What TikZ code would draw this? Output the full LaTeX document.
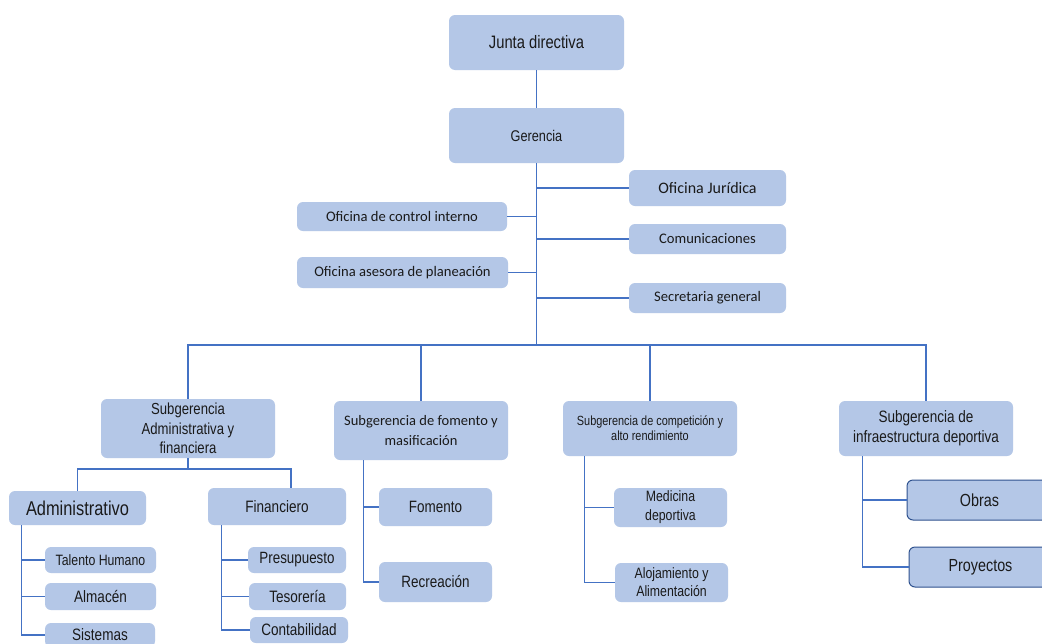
\documentclass[tikz,border=0pt]{standalone}
\usepackage{fontspec}
\setmainfont{Liberation Sans}
\newfontfamily\narr[FakeStretch=0.82]{Liberation Sans}
\newfontfamily\carl{Carlito}
\definecolor{boxfill}{HTML}{B4C7E7}
\definecolor{linkc}{HTML}{4472C4}
\definecolor{darkb}{HTML}{2F528F}
\definecolor{txt}{HTML}{1A1A1A}
\newcommand{\fs}[2]{\fontsize{#1}{#2}\selectfont}
\tikzset{
  box/.style={fill=boxfill, draw=none, rounded corners=6pt, inner sep=0pt, align=center, text=txt, font=\narr},
  bbox/.style={box, draw=darkb, line width=1pt},
  link/.style={draw=linkc, line width=1.2pt},
}
\begin{document}
\begin{tikzpicture}[x=1pt,y=-1pt]
\useasboundingbox[fill=white] (0,0) rectangle (1042,643);
\node[box, minimum width=175, minimum height=55, font=\narr\fs{18}{20}] (jd) at (536.5,42.5) {Junta directiva};
\node[box, minimum width=175, minimum height=55, font=\narr\fs{15.5}{18}] (ger) at (536.5,135.5) {Gerencia};
\node[box, minimum width=157, minimum height=36, font=\carl\fs{16}{18}] (ojur) at (707.5,188) {Oficina Jurídica};
\node[box, minimum width=210, minimum height=29, font=\carl\fs{14.6}{17}] (oci) at (402,216.5) {Oficina de control interno};
\node[box, minimum width=157, minimum height=30, font=\carl\fs{14.6}{17}] (com) at (707.5,239) {Comunicaciones};
\node[box, minimum width=211, minimum height=31, font=\carl\fs{14.6}{17}] (oap) at (402.5,272.5) {Oficina asesora de planeación};
\node[box, minimum width=157, minimum height=30, font=\carl\fs{14.6}{17}] (sec) at (707.5,298) {Secretaria general};
\node[box, minimum width=174, minimum height=59, font=\narr\fs{16}{19.5}] (sa) at (188,428.5) {Subgerencia\\Administrativa y\\financiera};
\node[box, minimum width=174, minimum height=59, font=\carl\fs{14.5}{20}] (sf) at (421,430.5) {Subgerencia de fomento y\\masificación};
\node[box, minimum width=174, minimum height=55, font=\narr\fs{13.3}{15}] (sc) at (650,428.5) {Subgerencia de competición y\\alto rendimiento};
\node[box, minimum width=174, minimum height=55, font=\narr\fs{16.5}{20}] (si) at (926,428.5) {Subgerencia de\\infraestructura deportiva};
\node[box, minimum width=137, minimum height=34, font=\narr\fs{20}{22}] (adm) at (77.5,508) {Administrativo};
\node[box, minimum width=138, minimum height=37, font=\narr\fs{16.5}{18}] (fin) at (277,506.5) {Financiero};
\node[box, minimum width=111, minimum height=26, font=\narr\fs{15}{17}] (th) at (100.5,560) {Talento Humano};
\node[box, minimum width=111, minimum height=27, font=\narr\fs{16.5}{18}] (alm) at (100.5,596.5) {Almacén};
\node[box, minimum width=110, minimum height=24, font=\narr\fs{16.5}{18}] (sis) at (100,635) {Sistemas};
\node[box, minimum width=98, minimum height=26, font=\narr\fs{16.3}{18}] (pre) at (297,560) {Presupuesto};
\node[box, minimum width=97, minimum height=27, font=\narr\fs{16.5}{18}] (tes) at (297.5,596.5) {Tesorería};
\node[box, minimum width=98, minimum height=26, font=\narr\fs{16.5}{18}] (con) at (299,630) {Contabilidad};
\node[box, minimum width=113, minimum height=38, font=\narr\fs{16.4}{18}] (fom) at (435.5,507) {Fomento};
\node[box, minimum width=113, minimum height=40, font=\narr\fs{16.4}{18}] (rec) at (435.5,582) {Recreación};
\node[box, minimum width=113, minimum height=39, font=\narr\fs{15}{19}] (med) at (670.5,507.5) {Medicina\\deportiva};
\node[box, minimum width=113, minimum height=39, font=\narr\fs{15}{18}] (alo) at (671.5,582.5) {Alojamiento y\\Alimentación};
\node[bbox, minimum width=145, minimum height=40, font=\narr\fs{17.5}{19}] (obr) at (979.5,500) {Obras};
\node[bbox, minimum width=143, minimum height=40, font=\narr\fs{17.5}{19}] (pro) at (980.5,567) {Proyectos};
% trunk
\coordinate (busy) at (0,345);
\draw[link] (jd.south) -- (ger.north);
\draw[link] (ger.south) -- (ger.south |- busy);
\draw[link] (ojur.west) -- (ojur.west -| ger.south);
\draw[link] (oci.east) -- (oci.east -| ger.south);
\draw[link] (com.west) -- (com.west -| ger.south);
\draw[link] (oap.east) -- (oap.east -| ger.south);
\draw[link] (sec.west) -- (sec.west -| ger.south);
% bus
\draw[link] (sa.north) -- (sa.north |- busy) -- (si.north |- busy) -- (si.north);
\draw[link] (sf.north) -- (sf.north |- busy);
\draw[link] (sc.north) -- (sc.north |- busy);
% administrativa y financiera
\coordinate (sab) at (188,469);
\draw[link] (sa.south) -- (sab);
\draw[link] (adm.north) |- (sab) -| ([xshift=14pt]fin.north);
\coordinate (admv) at ([xshift=13pt]adm.south west);
\draw[link] (admv) |- (sis.west);
\draw[link] (th.west) -- (th.west -| admv);
\draw[link] (alm.west) -- (alm.west -| admv);
\coordinate (finv) at ([xshift=14pt]fin.south west);
\draw[link] (finv) |- (con.west);
\draw[link] (pre.west) -- (pre.west -| finv);
\draw[link] (tes.west) -- (tes.west -| finv);
% fomento
\coordinate (sfv) at ([xshift=30pt]sf.south west);
\draw[link] (sfv) |- (rec.west);
\draw[link] (fom.west) -- (fom.west -| sfv);
% competicion
\coordinate (scv) at ([xshift=22pt]sc.south west);
\draw[link] (scv) |- (alo.west);
\draw[link] (med.west) -- (med.west -| scv);
% infraestructura
\coordinate (siv) at ([xshift=24pt]si.south west);
\draw[link] (siv) |- (pro.west);
\draw[link] (obr.west) -- (obr.west -| siv);
\end{tikzpicture}
\end{document}
